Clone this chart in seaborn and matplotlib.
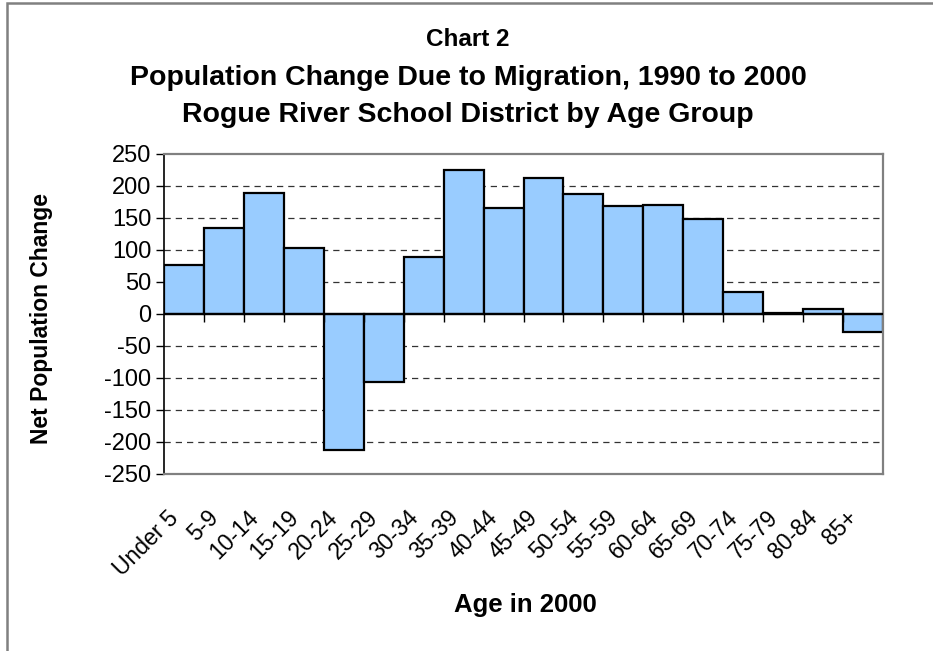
import matplotlib
matplotlib.use("Agg")
import matplotlib.pyplot as plt
import matplotlib.transforms as mtransforms
from matplotlib.patches import Rectangle
import seaborn as sns
import pandas as pd

# data
age_groups = ["Under 5", "5-9", "10-14", "15-19", "20-24", "25-29", "30-34", "35-39",
              "40-44", "45-49", "50-54", "55-59", "60-64", "65-69", "70-74", "75-79",
              "80-84", "85+"]
net_change = [76, 135, 189, 103, -212, -107, 89, 225, 165, 212, 188, 168, 170, 148,
              35, 2, 8, -28]
y_ticks = [-250, -200, -150, -100, -50, 0, 50, 100, 150, 200, 250]

sns.set_style("white")
plt.rcParams["font.family"] = ["Liberation Sans", "DejaVu Sans"]
plt.rcParams["text.color"] = "black"
plt.rcParams["xtick.color"] = "black"
plt.rcParams["ytick.color"] = "black"

df = pd.DataFrame({"age": age_groups, "change": net_change})

fig = plt.figure(figsize=(9.33, 6.51), dpi=100)
ax = fig.add_axes([164 / 933, 1 - 474 / 651, 719 / 933, 320 / 651])

# dashed gridlines (not at 0 or the limits)
for v in y_ticks:
    if v not in (0, 250, -250):
        ax.axhline(v, color="#333333", lw=0.9, ls=(0, (5, 4)), zorder=0)

sns.barplot(data=df, x="age", y="change", color="#99CCFF", saturation=1, width=1,
            edgecolor="black", linewidth=1.6, ax=ax, zorder=2)

ax.axhline(0, color="black", lw=1.6, zorder=3)
# category tick marks on the zero line
ax.vlines([i + 0.5 for i in range(len(age_groups) - 1)], -12, 0, color="black",
          lw=1.0, zorder=3)

ax.set_xlim(-0.5, len(age_groups) - 0.5)
ax.set_ylim(-250, 250)
ax.set_yticks(y_ticks)
ax.set_yticklabels([str(v) for v in y_ticks], fontsize=17)
ax.tick_params(axis="y", direction="out", length=6, width=1, color="black", pad=3, left=True)
ax.tick_params(axis="x", length=0, pad=29)

ax.set_xticks(range(len(age_groups)))
ax.set_xticklabels(age_groups, fontsize=16.5)
offset = mtransforms.ScaledTranslation(-9 / 100, 0, fig.dpi_scale_trans)
for lbl in ax.get_xticklabels():
    lbl.set_rotation(45)
    lbl.set_ha("right")
    lbl.set_va("center")
    lbl.set_rotation_mode("anchor")
    lbl.set_transform(lbl.get_transform() + offset)

for side in ["top", "right", "bottom"]:
    ax.spines[side].set_color("#808080")
    ax.spines[side].set_linewidth(1.6)
ax.spines["left"].set_color("black")
ax.spines["left"].set_linewidth(1.2)

ax.set_xlabel("")
ax.set_ylabel("")
fig.text(42 / 933, 1 - 318 / 651, "Net Population Change", rotation=90, fontsize=16.5,
         fontweight="bold", ha="center", va="center")
fig.text(525 / 933, 1 - 605 / 651, "Age in 2000", fontsize=18.5, fontweight="bold",
         ha="center", va="center")

title_lines = ["Chart 2", "Population Change Due to Migration, 1990 to 2000",
               "Rogue River School District by Age Group"]
title_sizes = [17.5, 20.5, 20.5]
for line, ypx, fs in zip(title_lines, [40, 78, 115], title_sizes):
    fig.text(468 / 933, 1 - ypx / 651, line, fontsize=fs, fontweight="bold",
             ha="center", va="center")

# outer chart border
fig.patches.append(Rectangle((7 / 933, -0.1), 1.2, 1 - 3 / 651 + 0.1,
                             transform=fig.transFigure, fill=False,
                             edgecolor="#808080", lw=1.8))

fig.savefig("out.png", dpi=100)
